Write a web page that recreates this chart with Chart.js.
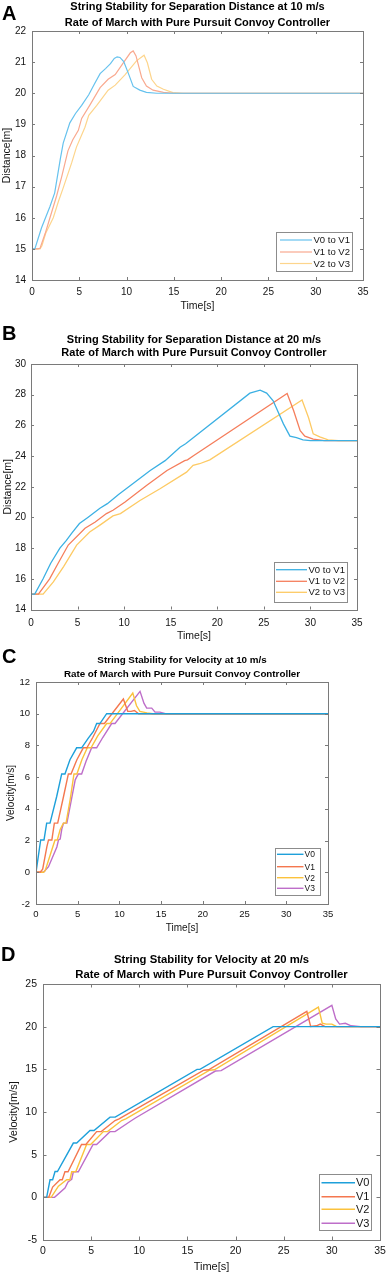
<!DOCTYPE html>
<html><head><meta charset="utf-8">
<script src="https://cdn.jsdelivr.net/npm/chart.js@4.4.1/dist/chart.umd.min.js"></script>
<style>
html,body{margin:0;padding:0;background:#fff;}
body{width:387px;height:1275px;position:relative;overflow:hidden;}
canvas{position:absolute;left:0;}
</style></head><body>
<canvas id="cA" width="387" height="318" style="top:0px;width:387px;height:318px"></canvas>
<canvas id="cB" width="387" height="328" style="top:318px;width:387px;height:328px"></canvas>
<canvas id="cC" width="387" height="300" style="top:640px;width:387px;height:300px"></canvas>
<canvas id="cD" width="387" height="335" style="top:940px;width:387px;height:335px"></canvas>
<script>
// ---------- shared ticks ----------
const timeTicks = [0, 5, 10, 15, 20, 25, 30, 35];

// ---------- Panel A: separation distance, 10 m/s ----------
const aTicksY = [14, 15, 16, 17, 18, 19, 20, 21, 22];
const aT01 = [0, 0.3, 1.0, 1.9, 2.4, 3.0, 3.3, 4.0, 4.6, 5.25, 6.0, 6.6, 7.2, 7.8, 8.3, 8.7, 9.0, 9.3, 9.7, 10.2, 10.7, 11.4, 12.1, 13.2, 35];
const aD01 = [15, 15, 15.67, 16.36, 16.8, 17.9, 18.4, 19.05, 19.35, 19.61, 19.95, 20.3, 20.63, 20.8, 20.95, 21.12, 21.17, 21.15, 21.02, 20.63, 20.22, 20.1, 20.03, 20.0, 20.0];
const aT12 = [0, 0.6, 0.85, 1.4, 1.9, 2.6, 3.15, 3.8, 4.3, 4.9, 5.25, 6.1, 7.2, 8.05, 8.8, 9.8, 10.4, 10.7, 11.0, 11.6, 12.1, 12.8, 13.9, 15, 35];
const aD12 = [15, 15, 15.02, 15.5, 16.0, 16.7, 17.33, 18.15, 18.5, 18.81, 19.19, 19.61, 20.18, 20.45, 20.6, 21.04, 21.3, 21.36, 21.2, 20.5, 20.23, 20.1, 20.03, 20, 20];
const aT23 = [0, 0.85, 1.05, 1.45, 2.25, 2.8, 3.3, 4.2, 4.7, 5.6, 6.0, 6.85, 8.05, 8.8, 9.85, 11.05, 11.85, 12.2, 12.65, 13.2, 13.9, 14.9, 16, 35];
const aD23 = [15, 15, 15.1, 15.5, 16.0, 16.53, 16.96, 17.77, 18.27, 18.91, 19.29, 19.61, 20.1, 20.26, 20.6, 21.04, 21.22, 20.98, 20.45, 20.23, 20.13, 20.02, 20, 20];

// ---------- Panel B: separation distance, 20 m/s ----------
const bTicksY = [14, 16, 18, 20, 22, 24, 26, 28, 30];
const bT01 = [0, 0.4, 1.3, 2.1, 3.1, 3.8, 4.4, 5.2, 6.1, 7.4, 8.2, 9.4, 10.5, 12.8, 14.4, 16.0, 16.6, 23.5, 24.6, 25.3, 26.0, 27.1, 27.8, 28.5, 29.2, 30.0, 35];
const bD01 = [15, 15, 16, 17, 18, 18.5, 19, 19.6, 20, 20.6, 20.9, 21.5, 22, 23.06, 23.7, 24.57, 24.8, 28.1, 28.3, 28.1, 27.6, 26.1, 25.3, 25.2, 25.05, 25, 25];
const bT12 = [0, 0.8, 2.0, 2.9, 4.0, 5.8, 6.9, 8.1, 8.8, 10.1, 12.4, 14.6, 16.5, 16.8, 17.4, 27.5, 28.2, 28.9, 29.4, 30.3, 31.5, 35];
const bD12 = [15, 15, 16, 17, 18.2, 19.3, 19.7, 20.25, 20.47, 21.0, 22.08, 23.06, 23.7, 23.75, 24.0, 28.08, 26.95, 25.65, 25.3, 25.1, 25, 25];
const bT23 = [0, 1.0, 1.3, 2.4, 3.5, 4.9, 6.3, 7.4, 8.8, 9.6, 11.7, 13.85, 16.7, 17.4, 18.1, 19.2, 29.1, 29.8, 30.3, 31.0, 31.9, 33, 35];
const bD23 = [15, 15, 15.0, 15.8, 16.8, 18.2, 19.05, 19.5, 20.1, 20.25, 21.1, 21.87, 22.95, 23.4, 23.5, 23.75, 27.65, 26.5, 25.45, 25.25, 25.05, 25, 25];

// ---------- Panel C: velocity, 10 m/s ----------
const cTicksY = [-2, 0, 2, 4, 6, 8, 10, 12];
const cT0 = [0, 0.1, 0.56, 0.96, 1.28, 1.68, 2.48, 3.08, 3.47, 4.07, 4.87, 5.47, 6.27, 6.9, 7.27, 7.66, 8.47, 35];
const cV0 = [0, 0, 2.04, 2.04, 3.1, 3.1, 4.78, 6.2, 6.2, 7.1, 7.85, 7.85, 8.46, 8.9, 9.38, 9.38, 10.0, 10.0];
const cT1 = [0, 0.5, 0.8, 1.3, 1.5, 1.9, 2.2, 2.6, 3.3, 3.88, 4.2, 4.9, 5.67, 6.1, 6.8, 7.67, 8.2, 10.47, 11.0, 11.4, 11.8, 12.3, 35];
const cV1 = [0, 0, 0.2, 1.6, 2.04, 2.04, 3.1, 3.1, 4.78, 6.2, 6.2, 7.1, 7.85, 7.85, 8.5, 9.38, 9.38, 10.93, 10.15, 10.15, 10.2, 10.0, 10.0];
const cT2 = [0, 0.9, 1.1, 1.7, 2.28, 2.55, 2.9, 3.28, 3.6, 4.1, 4.55, 4.9, 5.5, 6.15, 6.6, 7.4, 8.47, 8.87, 11.6, 12.05, 12.45, 13.3, 14, 35];
const cV2 = [0, 0, 0.1, 1.09, 2.04, 2.04, 2.7, 3.1, 3.1, 4.6, 6.2, 6.2, 7.1, 7.85, 7.85, 8.6, 9.38, 9.38, 11.3, 10.5, 10.15, 10.05, 10.0, 10.0];
const cT3 = [0, 0.9, 1.5, 2.5, 2.7, 2.9, 3.1, 3.3, 3.7, 4.7, 5.07, 5.47, 6.0, 6.67, 7.27, 8.0, 9.07, 9.47, 12.47, 12.95, 13.27, 13.87, 14.27, 14.86, 15.5, 35];
const cV3 = [0, 0, 0.35, 1.6, 2.04, 2.1, 2.75, 3.1, 3.1, 5.83, 6.2, 6.2, 7.0, 7.85, 7.85, 8.5, 9.38, 9.38, 11.41, 10.65, 10.35, 10.35, 10.1, 10.1, 10.0, 10.0];

// ---------- Panel D: velocity, 20 m/s ----------
const dTicksY = [-5, 0, 5, 10, 15, 20, 25];
const dT0 = [0, 0.38, 0.73, 1.0, 1.25, 1.5, 3.15, 3.5, 4.88, 5.3, 6.96, 7.5, 16.0, 16.3, 23.9, 24.3, 35];
const dV0 = [0, 0, 2.06, 2.06, 3.03, 3.03, 6.36, 6.36, 7.84, 7.84, 9.4, 9.4, 15.0, 15.0, 20.0, 20.0, 20.0];
const dT1 = [0, 0.6, 1.0, 1.77, 2.0, 2.28, 2.6, 4.0, 4.45, 5.57, 6.05, 7.48, 7.9, 16.7, 17.2, 27.4, 27.8, 28.4, 28.8, 29.3, 35];
const dV1 = [0, 0, 1.2, 2.06, 2.06, 3.0, 3.0, 6.2, 6.2, 7.7, 7.7, 9.0, 9.2, 14.9, 14.95, 21.8, 20.03, 20.1, 20.3, 20.0, 20.0];
const dT2 = [0, 0.85, 1.6, 2.46, 2.8, 2.98, 3.4, 4.53, 4.95, 6.27, 6.7, 8.17, 8.6, 17.3, 17.8, 28.6, 29.0, 29.4, 30.0, 30.5, 35];
const dV2 = [0, 0, 1.3, 2.06, 2.06, 3.0, 3.0, 6.2, 6.2, 7.7, 7.7, 9.0, 9.2, 14.9, 14.95, 22.3, 20.4, 20.3, 20.3, 20.0, 20.0];
const dT3 = [0, 1.2, 2.28, 2.6, 2.98, 3.15, 3.67, 5.2, 5.57, 6.96, 7.48, 9.2, 9.6, 17.9, 18.5, 30.0, 30.4, 30.8, 31.4, 32.0, 33, 35];
const dV3 = [0, 0, 1.1, 1.8, 2.1, 3.0, 3.0, 6.2, 6.2, 7.7, 7.7, 9.0, 9.3, 14.8, 14.85, 22.5, 20.9, 20.3, 20.4, 20.1, 20.0, 20.0];

// ---------- drawing ----------
const FONT = '"Liberation Sans", Arial, Helvetica, sans-serif';
const TXT = '#141414';
const AXIS = '#7a7a7a';

function makePanel(cfg) {
  const p = cfg.plot;
  const decor = {
    id: 'decor_' + cfg.id,
    afterDraw(chart) {
      const ctx = chart.ctx;
      const xs = chart.scales.x, ys = chart.scales.y;
      const ca = chart.chartArea;
      ctx.save();
      ctx.strokeStyle = AXIS; ctx.lineWidth = 1;
      ctx.strokeRect(Math.round(ca.left) + 0.5, Math.round(ca.top) + 0.5, Math.round(ca.right - ca.left), Math.round(ca.bottom - ca.top));
      const tl = cfg.tickLen;
      ctx.beginPath();
      cfg.xTicks.forEach(v => {
        const x = Math.round(xs.getPixelForValue(v)) + 0.5;
        ctx.moveTo(x, ca.bottom); ctx.lineTo(x, ca.bottom - tl);
        ctx.moveTo(x, ca.top); ctx.lineTo(x, ca.top + tl);
      });
      cfg.yTicks.forEach(v => {
        const y = Math.round(ys.getPixelForValue(v)) + 0.5;
        ctx.moveTo(ca.left, y); ctx.lineTo(ca.left + tl, y);
        ctx.moveTo(ca.right, y); ctx.lineTo(ca.right - tl, y);
      });
      ctx.stroke();
      ctx.fillStyle = TXT;
      ctx.font = cfg.tickSize + 'px ' + FONT;
      ctx.textBaseline = 'middle';
      ctx.textAlign = 'center';
      cfg.xTicks.forEach(v => {
        ctx.fillText(String(v), xs.getPixelForValue(v), ca.bottom + cfg.xLabOff);
      });
      ctx.textAlign = 'right';
      cfg.yTicks.forEach(v => {
        ctx.fillText(String(v), ca.left - cfg.yLabGap, ys.getPixelForValue(v));
      });
      ctx.font = cfg.axisSize + 'px ' + FONT;
      ctx.textAlign = 'center';
      ctx.fillText('Time[s]', (ca.left + ca.right) / 2, ca.bottom + cfg.xTitleOff);
      ctx.save();
      ctx.translate(cfg.yTitleX, (ca.top + ca.bottom) / 2);
      ctx.rotate(-Math.PI / 2);
      ctx.fillText(cfg.yTitle, 0, 0);
      ctx.restore();
      ctx.fillStyle = '#000';
      ctx.font = 'bold ' + cfg.titleSize + 'px ' + FONT;
      ctx.textAlign = 'center';
      cfg.titles.forEach((t, i) => ctx.fillText(t, (ca.left + ca.right) / 2, cfg.titleY[i]));
      ctx.font = 'bold ' + cfg.letter.size + 'px ' + FONT;
      ctx.textAlign = 'left';
      ctx.textBaseline = 'alphabetic';
      ctx.fillText(cfg.letter.text, cfg.letter.x, cfg.letter.y);
      const L = cfg.legend;
      ctx.fillStyle = '#fff';
      ctx.fillRect(L.l, L.t, L.r - L.l, L.b - L.t);
      ctx.strokeStyle = '#8c8c8c';
      ctx.lineWidth = 1;
      ctx.strokeRect(Math.round(L.l) + 0.5, Math.round(L.t) + 0.5, Math.round(L.r - L.l), Math.round(L.b - L.t));
      ctx.font = L.size + 'px ' + FONT;
      ctx.textBaseline = 'middle';
      chart.data.datasets.forEach((ds, i) => {
        const y = L.rows[i];
        ctx.strokeStyle = ds.borderColor;
        ctx.lineWidth = cfg.lineWidth;
        ctx.beginPath(); ctx.moveTo(L.x0, y); ctx.lineTo(L.x1, y); ctx.stroke();
        ctx.fillStyle = TXT;
        ctx.fillText(ds.label, L.tx, y + 0.5);
      });
      ctx.restore();
    }
  };
  const datasets = cfg.series.map(s => ({
    label: s.label,
    data: s.t.map((t, i) => ({ x: t, y: s.v[i] })),
    borderColor: s.color,
    borderWidth: cfg.lineWidth,
    pointRadius: 0,
    tension: 0,
    fill: false
  }));
  new Chart(document.getElementById(cfg.id), {
    type: 'line',
    data: { datasets },
    options: {
      responsive: false,
      animation: false,
      devicePixelRatio: 1,
      layout: { padding: { left: 0, top: p.t, right: 387 - p.r, bottom: 0 } },
      plugins: { legend: { display: false }, title: { display: false }, tooltip: { enabled: false } },
      scales: {
        x: {
          type: 'linear', min: 0, max: 35,
          afterBuildTicks: s => { s.ticks = cfg.xTicks.map(v => ({ value: v })); },
          afterFit: s => { s.height = cfg.H - p.b; },
          grid: { display: false, drawTicks: false },
          border: { display: false },
          ticks: { display: false }
        },
        y: {
          type: 'linear', min: cfg.yTicks[0], max: cfg.yTicks[cfg.yTicks.length - 1],
          afterBuildTicks: s => { s.ticks = cfg.yTicks.map(v => ({ value: v })); },
          afterFit: s => { s.width = p.l; },
          grid: { display: false, drawTicks: false },
          border: { display: false },
          ticks: { display: false }
        }
      }
    },
    plugins: [decor]
  });
}

const title2 = 'Rate of March with Pure Pursuit Convoy Controller';

makePanel({
  id: 'cA', H: 318, plot: { l: 32, r: 363, t: 31, b: 280 },
  xTicks: timeTicks, yTicks: aTicksY, tickLen: 3, lineWidth: 1.2,
  tickSize: 10, xLabOff: 12.5, yLabGap: 6, axisSize: 10.5, xTitleOff: 26, yTitleX: 7, yTitle: 'Distance[m]',
  titleSize: 11, titles: ['String Stability for Separation Distance at 10 m/s', title2], titleY: [6.5, 22.5],
  letter: { text: 'A', x: 2, y: 20, size: 20 },
  legend: { l: 276, r: 352, t: 232, b: 271, rows: [240, 252, 263.5], x0: 280, x1: 312, tx: 313.5, size: 9.5 },
  series: [
    { label: 'V0 to V1', t: aT01, v: aD01, color: '#66c2ee' },
    { label: 'V1 to V2', t: aT12, v: aD12, color: '#f9a98f' },
    { label: 'V2 to V3', t: aT23, v: aD23, color: '#fdd58c' }
  ]
});

makePanel({
  id: 'cB', H: 328, plot: { l: 31, r: 357, t: 46, b: 291.5 },
  xTicks: timeTicks, yTicks: bTicksY, tickLen: 3, lineWidth: 1.3,
  tickSize: 10, xLabOff: 13.5, yLabGap: 5, axisSize: 10.5, xTitleOff: 26.5, yTitleX: 8, yTitle: 'Distance[m]',
  titleSize: 11, titles: ['String Stability for Separation Distance at 20 m/s', title2], titleY: [21.5, 35],
  letter: { text: 'B', x: 2, y: 22, size: 20 },
  legend: { l: 274, r: 347, t: 243.5, b: 283.5, rows: [251.7, 263.3, 274.3], x0: 276, x1: 307, tx: 308.5, size: 9.5 },
  series: [
    { label: 'V0 to V1', t: bT01, v: bD01, color: '#3cb0e3' },
    { label: 'V1 to V2', t: bT12, v: bD12, color: '#f57e5c' },
    { label: 'V2 to V3', t: bT23, v: bD23, color: '#fdca64' }
  ]
});

makePanel({
  id: 'cC', H: 300, plot: { l: 36, r: 328, t: 42, b: 264 },
  xTicks: timeTicks, yTicks: cTicksY, tickLen: 3, lineWidth: 1.4,
  tickSize: 9.5, xLabOff: 10.5, yLabGap: 6, axisSize: 10, xTitleOff: 24, yTitleX: 11, yTitle: 'Velocity[m/s]',
  titleSize: 9.8, titles: ['String Stability for Velocity at 10 m/s', title2], titleY: [20.5, 34],
  letter: { text: 'C', x: 2, y: 23, size: 20 },
  legend: { l: 274.5, r: 319.5, t: 207.5, b: 254.5, rows: [214.3, 226.7, 237.7, 248.3], x0: 277, x1: 303.5, tx: 304.5, size: 8.5 },
  series: [
    { label: 'V0', t: cT0, v: cV0, color: '#1ea0da' },
    { label: 'V1', t: cT1, v: cV1, color: '#f4774f' },
    { label: 'V2', t: cT2, v: cV2, color: '#fbc23c' },
    { label: 'V3', t: cT3, v: cV3, color: '#be6ec9' }
  ]
});

makePanel({
  id: 'cD', H: 335, plot: { l: 43, r: 380, t: 44, b: 300 },
  xTicks: timeTicks, yTicks: dTicksY, tickLen: 3.5, lineWidth: 1.4,
  tickSize: 10.5, xLabOff: 11.3, yLabGap: 6, axisSize: 11, xTitleOff: 27, yTitleX: 14, yTitle: 'Velocity[m/s]',
  titleSize: 11.3, titles: ['String Stability for Velocity at 20 m/s', title2], titleY: [20, 34.5],
  letter: { text: 'D', x: 1, y: 21, size: 20 },
  legend: { l: 319, r: 370.5, t: 234, b: 290, rows: [242.7, 256.7, 269.3, 283.3], x0: 321.5, x1: 355, tx: 356, size: 11 },
  series: [
    { label: 'V0', t: dT0, v: dV0, color: '#1ea0da' },
    { label: 'V1', t: dT1, v: dV1, color: '#f4774f' },
    { label: 'V2', t: dT2, v: dV2, color: '#fbc23c' },
    { label: 'V3', t: dT3, v: dV3, color: '#be6ec9' }
  ]
});
</script>
</body></html>
